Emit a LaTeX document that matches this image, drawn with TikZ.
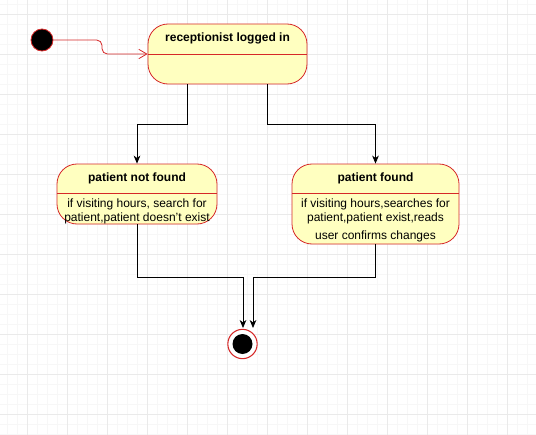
\documentclass[tikz,border=0pt]{standalone}
\usepackage{fontspec}
\setmainfont{Liberation Sans}
\usepackage{xcolor}
\usetikzlibrary{arrows.meta}
\definecolor{statered}{RGB}{214, 40, 40}
\definecolor{stateyellow}{RGB}{255, 255, 192}
\definecolor{gridmajor}{RGB}{234, 234, 234}
\definecolor{gridminor}{RGB}{247, 247, 247}

\tikzset{
  statebox/.style={draw=statered, line width=0.6pt, rounded corners=15pt, fill=stateyellow},
  statetitle/.style={font=\fontsize{9}{11}\selectfont\bfseries, inner sep=0pt},
  statebody/.style={font=\fontsize{9}{10.5}\selectfont, align=center, inner sep=0pt, anchor=north},
  divider/.style={draw=statered, line width=0.6pt},
  flow/.style={draw=black, line width=0.6pt, -{Stealth[length=6pt, width=5pt, inset=1.8pt]}},
  initflow/.style={draw=statered, line width=0.6pt, rounded corners=4pt, -{Straight Barb[length=6pt, width=7pt]}}
}

\begin{document}
\begin{tikzpicture}[x=0.75pt, y=-0.75pt]
\useasboundingbox (0,0) rectangle (536,435);
\fill[white] (0,0) rectangle (536,435);
% background grid
\foreach \x in {7,17,...,537} \draw[gridminor, line width=0.4pt] (\x,0) -- (\x,435);
\foreach \y in {4,14,...,434} \draw[gridminor, line width=0.4pt] (0,\y) -- (536,\y);
\foreach \x in {27,67,...,507} \draw[gridmajor, line width=0.5pt] (\x,0) -- (\x,435);
\foreach \y in {14,54,...,414} \draw[gridmajor, line width=0.5pt] (0,\y) -- (536,\y);

% initial and final states
\node[circle, draw=statered, fill=black, line width=0.6pt, minimum size=16.5pt, inner sep=0pt] (start) at (42,40) {};
\node[circle, draw=statered, fill=white, line width=0.8pt, minimum size=22pt, inner sep=0pt] (fin) at (242.5,344) {};
\node[circle, fill=black, minimum size=15pt, inner sep=0pt] (fin dot) at (fin) {};

% receptionist logged in
\node[statebox, minimum width=119.25pt, minimum height=45pt] (logged) at (227.5,54) {};
\node[statetitle] (logged title) at ([yshift=-11.25pt]logged.north) {receptionist logged in};
\draw[divider] (logged.west) -- (logged.east);

% patient not found
\node[statebox, minimum width=120pt, minimum height=45pt] (notfound) at (137,194) {};
\node[statetitle] (notfound title) at ([yshift=-11.25pt]notfound.north) {patient not found};
\draw[divider] ([yshift=-22.5pt]notfound.north west) -- ([yshift=-22.5pt]notfound.north east);
\node[statebody] (notfound body) at ([yshift=-26pt]notfound.north) {if visiting hours, search for\\patient,patient doesn't exist};

% patient found
\node[statebox, minimum width=125.25pt, minimum height=60pt] (found) at (375.5,204) {};
\node[statetitle] (found title) at ([yshift=-11.25pt]found.north) {patient found};
\draw[divider] ([yshift=-22.5pt]found.north west) -- ([yshift=-22.5pt]found.north east);
\node[statebody] (found body) at ([yshift=-26pt]found.north) {if visiting hours,searches for\\patient,patient exist,reads\\[3pt]user confirms changes};

% transitions
\draw[initflow] (start.east) -- (102,40) |- (logged.west);
\draw[flow] ([xshift=-30pt]logged.south) -- ++(0,40) -| (notfound.north);
\draw[flow] ([xshift=30pt]logged.south) -- ++(0,40) -| (found.north);
\draw[flow] (notfound.south) |- (243,277) -- (243,328);
\draw[flow] (found.south) |- (253,277) -- (253,328);
\end{tikzpicture}
\end{document}
